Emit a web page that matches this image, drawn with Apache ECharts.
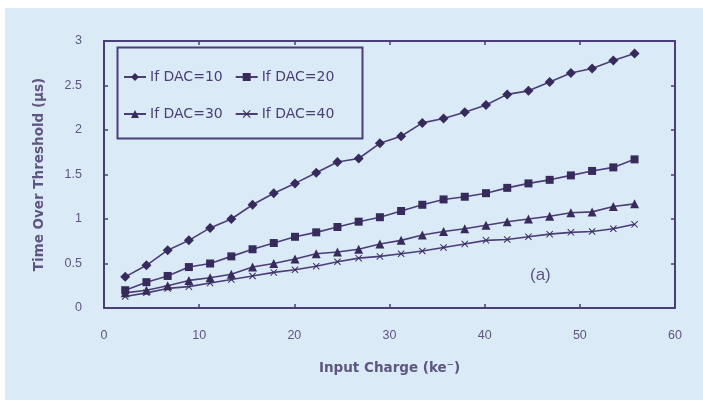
<!DOCTYPE html>
<html>
<head>
<meta charset="utf-8">
<script src="https://cdn.jsdelivr.net/npm/echarts@6/dist/echarts.min.js"></script>
<style>
html,body{margin:0;padding:0;background:#ffffff;}
#bg{position:absolute;left:5px;top:8px;width:698px;height:392px;background:#dbeaf7;}
#c{position:absolute;left:0;top:0;width:703px;height:400px;}
</style>
</head>
<body>
<div id="bg"></div>
<div id="c"></div>
<script>
// Input charge (ke-)
const inputCharge = [2.23, 4.46, 6.69, 8.92, 11.15, 13.38, 15.61, 17.84, 20.07, 22.3, 24.53, 26.76, 28.99, 31.22, 33.45, 35.68, 37.91, 40.14, 42.37, 44.6, 46.83, 49.06, 51.29, 53.52, 55.75];
// Time over threshold (us)
const dac10 = [0.35, 0.48, 0.65, 0.76, 0.90, 1.00, 1.16, 1.29, 1.40, 1.52, 1.64, 1.68, 1.85, 1.93, 2.08, 2.13, 2.20, 2.28, 2.40, 2.44, 2.54, 2.64, 2.69, 2.78, 2.86];
const dac20 = [0.20, 0.29, 0.36, 0.46, 0.50, 0.58, 0.66, 0.73, 0.80, 0.85, 0.91, 0.97, 1.02, 1.09, 1.16, 1.22, 1.25, 1.29, 1.35, 1.40, 1.44, 1.49, 1.54, 1.58, 1.67];
const dac30 = [0.17, 0.20, 0.25, 0.31, 0.34, 0.38, 0.46, 0.50, 0.55, 0.61, 0.63, 0.66, 0.72, 0.76, 0.82, 0.86, 0.89, 0.93, 0.97, 1.00, 1.03, 1.07, 1.08, 1.14, 1.17];
const dac40 = [0.13, 0.17, 0.22, 0.24, 0.28, 0.32, 0.36, 0.40, 0.43, 0.47, 0.52, 0.56, 0.58, 0.61, 0.64, 0.68, 0.72, 0.76, 0.77, 0.80, 0.83, 0.85, 0.86, 0.89, 0.94];
const seriesNames = ['If DAC=10', 'If DAC=20', 'If DAC=30', 'If DAC=40'];
const xTickValues = [0, 10, 20, 30, 40, 50, 60];
const yTickValues = [0, 0.5, 1, 1.5, 2, 2.5, 3];

const pair = (ys) => inputCharge.map((x, i) => [x, ys[i]]);
const ink = '#4b3e78';
const txt = '#5e5680';
const crossPath = 'path://M0,1L1,0L5,4L9,0L10,1L6,5L10,9L9,10L5,6L1,10L0,9L4,5Z';

const chart = echarts.init(document.getElementById('c'), null, {renderer: 'canvas'});

function mkSeries(name, data, symbol, size) {
  return {
    name: name, type: 'line', data: pair(data),
    symbol: symbol, symbolSize: size,
    lineStyle: {color: ink, width: 1.6},
    itemStyle: {color: '#372b5c'},
    emphasis: {disabled: true},
    animation: false
  };
}

const baseAxisX = {
  type: 'value', min: 0, max: 60, interval: 10,
  axisLine: {show: true, onZero: false, lineStyle: {color: ink, width: 2}},
  axisTick: {show: true, inside: true, length: 4, lineStyle: {color: ink, width: 1.5}},
  splitLine: {show: false}
};
const baseAxisY = {
  type: 'value', min: 0, max: 3, interval: 0.5,
  axisLine: {show: true, onZero: false, lineStyle: {color: ink, width: 2}},
  axisTick: {show: true, inside: true, length: 4, lineStyle: {color: ink, width: 1.5}},
  splitLine: {show: false}
};

const legendText = {color: '#4a3f75', fontSize: 14, fontFamily: 'DejaVu Sans', padding: [0, 0, 0, -1]};
const nameStyle = {color: txt, fontSize: 13.5, fontWeight: 'bold', fontFamily: 'DejaVu Sans'};

chart.setOption({
  backgroundColor: 'transparent',
  animation: false,
  grid: {left: 104, right: 28, top: 41, bottom: 92},
  xAxis: [
    Object.assign({}, baseAxisX, {
      position: 'bottom',
      name: 'Input Charge (ke⁻)', nameLocation: 'middle', nameGap: 53,
      nameTextStyle: nameStyle,
      axisLabel: {margin: 21, color: txt, fontSize: 12.5, fontFamily: 'Liberation Sans',
        formatter: (v) => xTickValues.includes(v) ? String(v) : ''}
    }),
    Object.assign({}, baseAxisX, {position: 'top', axisLabel: {show: false}})
  ],
  yAxis: [
    Object.assign({}, baseAxisY, {
      position: 'left',
      name: 'Time Over Threshold (µs)', nameLocation: 'middle', nameGap: 58,
      nameTextStyle: nameStyle,
      axisLabel: {margin: 22, color: txt, fontSize: 12.5, fontFamily: 'Liberation Sans',
        formatter: (v) => yTickValues.includes(v) ? String(v) : ''}
    }),
    Object.assign({}, baseAxisY, {position: 'right', axisLabel: {show: false}})
  ],
  legend: [
    {data: [seriesNames[0], seriesNames[1]], left: 118, top: 65, itemGap: 12,
      itemWidth: 22, itemHeight: 10, textStyle: legendText, selectedMode: false},
    {data: [seriesNames[2], seriesNames[3]], left: 118, top: 102, itemGap: 12,
      itemWidth: 22, itemHeight: 10, textStyle: legendText, selectedMode: false}
  ],
  graphic: [
    {type: 'rect', left: 115, top: 45, shape: {width: 245, height: 91},
      style: {fill: 'none', stroke: ink, lineWidth: 2}, silent: true, z: 10},
    {type: 'text', left: 530, top: 267, style: {text: '(a)', fill: txt, fontSize: 17, fontFamily: 'Liberation Sans'}, silent: true}
  ],
  series: [
    mkSeries(seriesNames[0], dac10, 'diamond', 10),
    mkSeries(seriesNames[1], dac20, 'rect', 8),
    mkSeries(seriesNames[2], dac30, 'triangle', 9),
    mkSeries(seriesNames[3], dac40, crossPath, 7)
  ]
});
</script>
</body>
</html>
